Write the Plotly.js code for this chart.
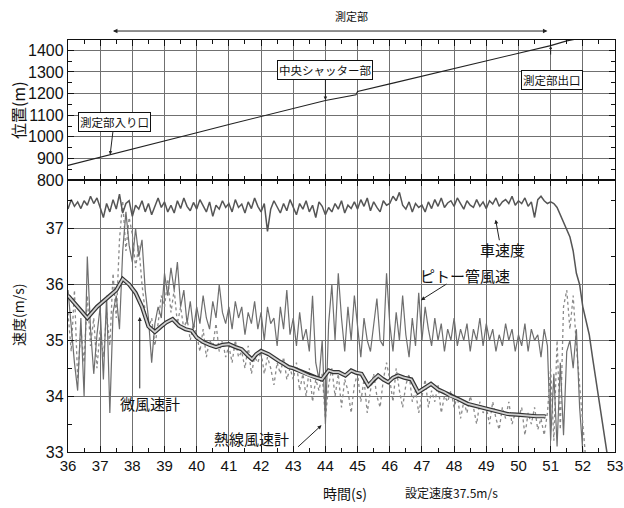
<!DOCTYPE html>
<html><head><meta charset="utf-8">
<script src="https://cdn.plot.ly/plotly-3.0.1.min.js"></script>
<style>body{margin:0;background:#fff}#c{width:624px;height:508px}</style>
</head><body><div id="c"></div><script>
// time grid for sampled series: start 36.0 s, step 0.1 s
const T0 = 36, DT = 0.1;
// 車速度 (car speed, m/s) 36.0 .. 53.0
const carSpeed = [
37.35,37.52,37.40,37.48,37.36,37.50,37.42,37.58,37.45,37.55,
37.38,37.20,37.45,37.30,37.52,37.35,37.62,37.28,37.45,37.50,
37.22,37.42,37.35,37.50,37.30,37.45,37.25,37.40,37.55,37.38,
37.48,37.30,37.42,37.28,37.50,37.36,37.55,37.40,37.32,37.47,
37.35,37.52,37.40,37.30,37.48,37.22,37.42,37.35,37.50,37.38,
37.45,37.30,37.52,37.38,37.44,37.28,37.48,37.36,37.55,37.40,
37.30,37.45,36.95,37.35,37.50,37.40,37.28,37.45,37.32,37.52,
37.38,37.25,37.45,37.35,37.50,37.30,37.42,37.20,37.48,37.40,
37.25,37.38,37.30,37.45,37.35,37.50,37.28,37.42,37.36,37.48,
37.35,37.52,37.40,37.55,37.32,37.48,37.38,37.30,37.50,37.42,
37.45,37.58,37.50,37.65,37.42,37.35,37.48,37.30,37.45,37.38,
37.42,37.30,37.48,37.36,37.52,37.40,37.55,37.38,37.46,37.50,
37.40,37.55,37.45,37.35,37.50,37.42,37.38,37.52,37.40,37.48,
37.36,37.50,37.44,37.55,37.40,37.48,37.52,37.45,37.58,37.42,
37.50,37.45,37.55,37.40,37.48,37.20,37.52,37.58,37.50,37.45,
37.48,37.45,37.38,37.25,37.10,37.00,36.85,36.60,36.20,36.00,
35.60,35.35,35.10,34.70,34.30,33.90,33.50,33.10,32.80,32.60,
32.50];
// ピトー管風速 (pitot tube, m/s) 36.0 .. 52.0
const pitot = [
35.90,35.20,34.60,34.10,35.40,34.00,36.50,35.20,34.40,35.10,
35.60,34.30,35.80,33.70,35.50,35.80,35.20,36.60,37.30,36.70,
36.40,37.00,36.50,36.80,35.90,35.40,34.60,35.30,35.60,35.40,
36.20,35.80,36.30,35.90,36.40,35.60,35.90,35.30,35.70,35.20,
35.60,35.30,35.80,35.40,35.20,35.70,35.40,36.00,35.50,35.30,
35.60,35.20,35.70,35.40,35.60,35.10,35.50,35.30,35.70,35.20,
35.50,35.00,35.60,35.30,35.40,34.90,35.60,35.20,35.90,35.10,
35.40,34.90,35.50,35.00,35.20,34.80,35.80,34.60,34.30,35.00,
33.50,35.30,36.00,35.00,36.20,35.40,34.80,35.60,35.00,35.80,
35.20,34.70,35.40,35.00,34.80,35.30,35.75,35.00,34.90,36.20,
35.30,34.80,35.50,35.00,35.80,35.10,34.70,35.40,34.90,35.85,
35.00,35.60,35.20,34.90,35.40,35.00,35.30,34.80,35.20,35.00,
35.40,34.90,35.20,35.00,35.30,34.80,35.20,35.00,35.40,34.90,
35.30,35.00,35.20,34.80,35.10,34.90,35.30,35.00,35.20,34.80,
35.10,34.90,35.30,34.80,35.20,35.00,35.10,34.70,35.20,34.90,
33.20,34.40,33.10,34.60,33.30,34.80,35.00,34.50,35.20,33.80,
33.00];
// 熱線風速計 (hot-wire anemometer, m/s) 36.0 .. 52.1
const hotWire = [
35.50,34.80,35.90,34.30,35.20,34.60,35.80,34.90,35.40,34.50,
35.20,34.70,35.50,34.90,36.20,35.40,36.80,37.50,36.60,37.20,
36.90,36.30,36.70,36.00,35.50,35.20,35.40,34.90,35.30,35.80,
35.60,36.10,35.50,35.90,35.30,35.60,35.20,35.40,35.00,35.30,
35.10,34.80,35.20,34.70,35.00,34.90,35.30,34.80,35.00,34.70,
34.90,34.60,35.00,34.70,34.80,34.50,34.90,34.40,34.70,34.60,
34.80,34.40,34.70,34.50,34.20,34.60,34.40,34.70,34.30,34.50,
34.30,34.60,34.10,34.40,34.00,34.50,33.90,34.30,34.10,34.40,
33.60,34.20,34.50,34.00,34.40,33.80,34.30,34.10,33.70,34.20,
34.40,33.90,34.30,33.70,34.10,34.40,34.00,33.80,34.30,34.60,
34.30,33.90,34.50,34.10,33.80,34.20,34.40,33.90,34.10,33.70,
34.00,34.30,33.80,34.10,33.90,34.20,33.70,34.00,33.90,34.10,
33.80,34.00,33.60,33.90,33.70,34.00,33.80,33.50,33.90,33.70,
33.80,33.50,33.90,33.60,33.40,33.80,33.60,33.90,33.50,33.70,
33.60,33.80,33.30,33.70,33.50,33.80,33.40,33.60,33.30,33.70,
34.50,33.20,35.00,33.40,35.60,35.90,35.20,35.80,34.90,34.20,
33.40,32.80];
// 微風速計 (micro anemometer, m/s)
const microT = [36.0,36.3,36.6,36.9,37.2,37.5,37.7,37.9,38.1,38.3,38.5,38.7,38.9,39.05,39.25,39.45,39.65,39.85,
40.0,40.2,40.4,40.6,40.8,41.0,41.2,41.4,41.6,41.72,41.85,42.0,42.24,42.4,42.55,42.7,42.86,43.0,43.17,43.3,43.48,43.69,43.89,
44.1,44.25,44.41,44.62,44.8,44.95,45.12,45.33,45.5,45.64,45.8,45.95,46.1,46.26,46.45,46.67,46.88,47.05,47.28,47.5,47.7,47.9,
48.12,48.43,48.7,49.05,49.35,49.66,49.95,50.28,50.55,50.8,50.85];
const microV = [35.8,35.6,35.4,35.6,35.75,35.9,36.1,36.0,35.85,35.6,35.25,35.15,35.25,35.32,35.38,35.26,35.2,35.17,
35.05,34.97,34.92,34.88,34.92,34.93,34.88,34.84,34.72,34.66,34.75,34.81,34.75,34.68,34.63,34.58,34.52,34.5,34.46,34.42,34.37,34.34,34.3,
34.46,34.43,34.43,34.37,34.46,34.42,34.4,34.19,34.3,34.37,34.3,34.25,34.33,34.37,34.33,34.3,34.07,34.14,34.22,34.12,34.07,34.0,
33.95,33.86,33.82,33.77,33.72,33.68,33.67,33.65,33.64,33.64,33.63];
// 位置 (position, m)
const posT = [36,37,38,39,40,41,42,43,44,44.95,45.0,46,47,48,49,50,51,51.5,52,52.5];
const posV = [868,905,943,981,1019,1057,1095,1133,1168,1195,1210,1245,1280,1315,1350,1385,1422,1444,1458,1466];

const JP = '"Noto Sans CJK JP", "Noto Sans", sans-serif';
const NUM = '"Liberation Sans", Arial, sans-serif';

const traces = [
  {x0:T0, dx:DT, y:hotWire, xaxis:'x', yaxis:'y', mode:'lines', line:{color:'#8a8a8a', width:1.3, dash:'dot'}},
  {x0:T0, dx:DT, y:pitot, xaxis:'x', yaxis:'y', mode:'lines', line:{color:'#6e6e6e', width:1.2}},
  {x0:T0, dx:DT, y:carSpeed, xaxis:'x', yaxis:'y', mode:'lines', line:{color:'#555', width:1.5}},
  {x:microT, y:microV, xaxis:'x', yaxis:'y', mode:'lines', line:{color:'#333', width:4.2}},
  {x:microT, y:microV, xaxis:'x', yaxis:'y', mode:'lines', line:{color:'#cfcfcf', width:1.8}},
  {x:posT, y:posV, xaxis:'x2', yaxis:'y2', mode:'lines', line:{color:'#222', width:1.1}}
];

const axBase = {
  showline:true, linecolor:'#111', linewidth:1.2, mirror:'ticks',
  ticks:'inside', ticklen:6, tickcolor:'#111', tickwidth:1,
  showgrid:true, gridcolor:'#707070', gridwidth:1, zeroline:false,
  ticklabeloverflow:'allow'
};

function txt(t, xr, yr, x, y, size, extra){
  return Object.assign({text:t, xref:xr, yref:yr, x:x, y:y, showarrow:false,
    xanchor:'center', yanchor:'middle', font:{family:JP, size:size, color:'#111'}}, extra||{});
}
function arr(xr, yr, x, y, ax, ay){
  return {text:'', xref:xr, yref:yr, x:x, y:y, ax:ax, ay:ay, showarrow:true,
    arrowhead:2, arrowsize:0.8, arrowwidth:1, arrowcolor:'#222'};
}
const box = {bordercolor:'#111', borderwidth:1, borderpad:1, bgcolor:'#fff'};

const layout = {
  width:624, height:508,
  margin:{l:68, r:9, t:40, b:56},
  paper_bgcolor:'#fff', plot_bgcolor:'#fff',
  showlegend:false,
  xaxis: Object.assign({}, axBase, {
    range:[36,53], dtick:1, tick0:36, anchor:'y',
    tickfont:{family:NUM, size:15, color:'#111'},
    minor:{dtick:0.5, ticks:'inside', ticklen:4, tickcolor:'#111', showgrid:false}
  }),
  yaxis: Object.assign({}, axBase, {
    domain:[0,0.66], range:[33,37.87], dtick:1, tick0:33, anchor:'x',
    tickfont:{family:NUM, size:16, color:'#111'},
    minor:{dtick:0.5, ticks:'inside', ticklen:4, tickcolor:'#111', showgrid:false}
  }),
  xaxis2: Object.assign({}, axBase, {
    range:[36,53], dtick:1, tick0:36, anchor:'y2', matches:'x', showticklabels:false,
    minor:{dtick:0.5, ticks:'inside', ticklen:4, tickcolor:'#111', showgrid:false}
  }),
  yaxis2: Object.assign({}, axBase, {
    domain:[0.66,1], range:[800,1448], dtick:100, tick0:800, anchor:'x2',
    tickfont:{family:NUM, size:16, color:'#111'},
    minor:{dtick:50, ticks:'inside', ticklen:4, tickcolor:'#111', showgrid:false}
  }),
  annotations: [
    // axis titles
    txt('位置(m)', 'paper', 'paper', -0.0914, 0.83, 16, {textangle:-90}),
    txt('速度(m/s)', 'paper', 'paper', -0.0914, 0.3325, 14, {textangle:-90}),
    txt('時間(s)', 'paper', 'paper', 0.5064, -0.0995, 14),
    txt('設定速度37.5m/s', 'paper', 'paper', 0.702, -0.0995, 12),
    // measurement section
    txt('測定部', 'paper', 'paper', 0.519, 1.0585, 11),
    {text:'', xref:'x', yref:'paper', x:50.9, y:1.0218, ax:-436, ay:0, showarrow:true,
     arrowside:'end+start', arrowhead:2, startarrowhead:2, arrowsize:0.9, startarrowsize:0.9, arrowwidth:1, arrowcolor:'#222'},
    // top panel labels
    Object.assign({text:'測定部入り口', xref:'x2', yref:'y2', x:37.31, y:918, ax:4, ay:-33, showarrow:true,
     arrowhead:2, arrowsize:0.7, arrowwidth:1, arrowcolor:'#222', font:{family:JP, size:11.5, color:'#111'}}, box),
    Object.assign({text:'中央シャッター部', xref:'x2', yref:'y2', x:44, y:1170, ax:0, ay:-30, showarrow:true,
     arrowhead:2, arrowsize:0.7, arrowwidth:1, arrowcolor:'#222', font:{family:JP, size:11.5, color:'#111'}}, box),
    txt('測定部出口', 'x2', 'y2', 51.03, 1265, 11.5, box),
    {text:'', xref:'x2', yref:'y2', x:51, y:1420, ax:0, ay:10, showarrow:true,
     arrowhead:2, arrowsize:0.6, arrowwidth:1, arrowcolor:'#222'},
    // bottom panel labels
    txt('微風速計', 'x', 'y', 38.55, 33.87, 15),
    arr('x', 'y', 38.23, 35.42, 0, 73),
    txt('熱線風速計', 'x', 'y', 41.69, 33.25, 15),
    arr('x', 'y', 43.88, 33.48, -25, 23),
    txt('ピトー管風速', 'x', 'y', 48.33, 36.17, 15),
    arr('x', 'y', 46.97, 35.72, 27, -17),
    txt('車速度', 'x', 'y', 49.51, 36.62, 15),
    arr('x', 'y', 49.29, 37.16, 4, 22)
  ]
};

Plotly.newPlot('c', traces, layout, {staticPlot:true, displayModeBar:false});
</script></body></html>
